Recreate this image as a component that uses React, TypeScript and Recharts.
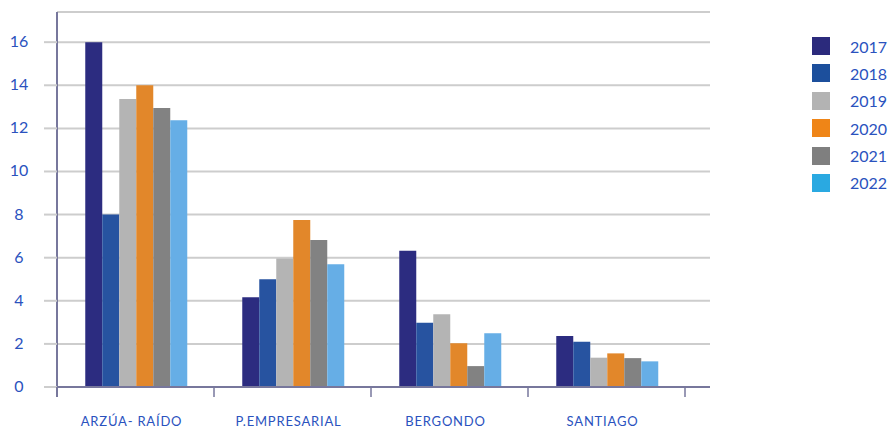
import React from 'react';
import { BarChart, Bar, XAxis, YAxis, CartesianGrid } from 'recharts';

// values
const categories = ['ARZÚA- RAÍDO', 'P.EMPRESARIAL', 'BERGONDO', 'SANTIAGO'];
const years = ['2017', '2018', '2019', '2020', '2021', '2022'];
const v2017 = [16, 4.17, 6.32, 2.37];
const v2018 = [8, 5, 2.98, 2.1];
const v2019 = [13.36, 5.96, 3.37, 1.36];
const v2020 = [14, 7.75, 2.03, 1.56];
const v2021 = [12.95, 6.82, 0.97, 1.34];
const v2022 = [12.38, 5.7, 2.49, 1.19];
const yTicks = [0, 2, 4, 6, 8, 10, 12, 14, 16];

const seriesValues = [v2017, v2018, v2019, v2020, v2021, v2022];
const barColors = ['#2c2c80', '#2753a0', '#b4b4b4', '#e2872a', '#828282', '#66aee6'];
const legendColors = ['#2b2a7c', '#1c4f9c', '#b3b3b3', '#ef8517', '#7f7f7f', '#2aa9e1'];

const data = categories.map((name, i) => {
  const row: Record<string, string | number> = { name };
  years.forEach((y, k) => {
    row[y] = seriesValues[k][i];
  });
  return row;
});

const W = 890;
const H = 428;
const PLOT_LEFT = 57;
const PLOT_RIGHT = 710;
const PAD_RIGHT = 25;
const HALF_BAND = (PLOT_RIGHT - PAD_RIGHT - PLOT_LEFT) / categories.length / 2;
const TEXT = '#2a52be';
const AXIS = '#77779c';
const FONT = 'Lato, "Open Sans", sans-serif';

const XTick = (props: any) => {
  const { x, y, payload, index } = props;
  return (
    <g>
      {index === 0 && (
        <line x1={x - HALF_BAND} x2={x - HALF_BAND} y1={y} y2={y + 10} stroke={AXIS} strokeWidth={2} />
      )}
      <line x1={x + HALF_BAND} x2={x + HALF_BAND} y1={y} y2={y + 10} stroke={AXIS} strokeWidth={1.5} />
      <text
        x={x - 4}
        y={y + 39}
        textAnchor="middle"
        fill={TEXT}
        fontSize={13}
        fontFamily={FONT}
        letterSpacing={0.8}
      >
        {payload.value}
      </text>
    </g>
  );
};

const YTick = (props: any) => {
  const { y, payload } = props;
  return (
    <text x={19} y={y} dy={5} textAnchor="middle" fill={TEXT} fontSize={16} fontFamily={FONT}>
      {payload.value}
    </text>
  );
};

export default function App() {
  return (
    <div style={{ position: 'absolute', left: 0, top: 0, width: W, height: H, background: '#fff' }}>
      <BarChart
        width={W}
        height={H}
        data={data}
        margin={{ top: 12, right: W - PLOT_RIGHT, left: 0, bottom: 0 }}
        barCategoryGap="18%"
        barGap={0}
      >
        <CartesianGrid vertical={false} stroke="#cdcdcd" strokeWidth={2} />
        <XAxis
          dataKey="name"
          height={41}
          padding={{ left: 0, right: PAD_RIGHT }}
          axisLine={{ stroke: AXIS, strokeWidth: 2 }}
          tickLine={false}
          tickSize={0}
          tickMargin={0}
          tick={<XTick />}
          interval={0}
        />
        <YAxis
          width={PLOT_LEFT}
          domain={[0, 17.4]}
          ticks={yTicks}
          allowDataOverflow
          axisLine={{ stroke: AXIS, strokeWidth: 2 }}
          tickLine={{ stroke: '#cdcdcd', strokeWidth: 2 }}
          tickSize={13}
          tick={<YTick />}
        />
        {years.map((y, k) => (
          <Bar key={y} dataKey={y} fill={barColors[k]} isAnimationActive={false} />
        ))}
      </BarChart>
      <div style={{ position: 'absolute', left: 812, top: 37, fontFamily: FONT }}>
        {years.map((y, k) => (
          <div key={y} style={{ display: 'flex', alignItems: 'center', height: 18, marginBottom: 9.4 }}>
            <div style={{ width: 18, height: 18, background: legendColors[k] }} />
            <span style={{ marginLeft: 20, color: TEXT, fontSize: 16 }}>{y}</span>
          </div>
        ))}
      </div>
    </div>
  );
}
